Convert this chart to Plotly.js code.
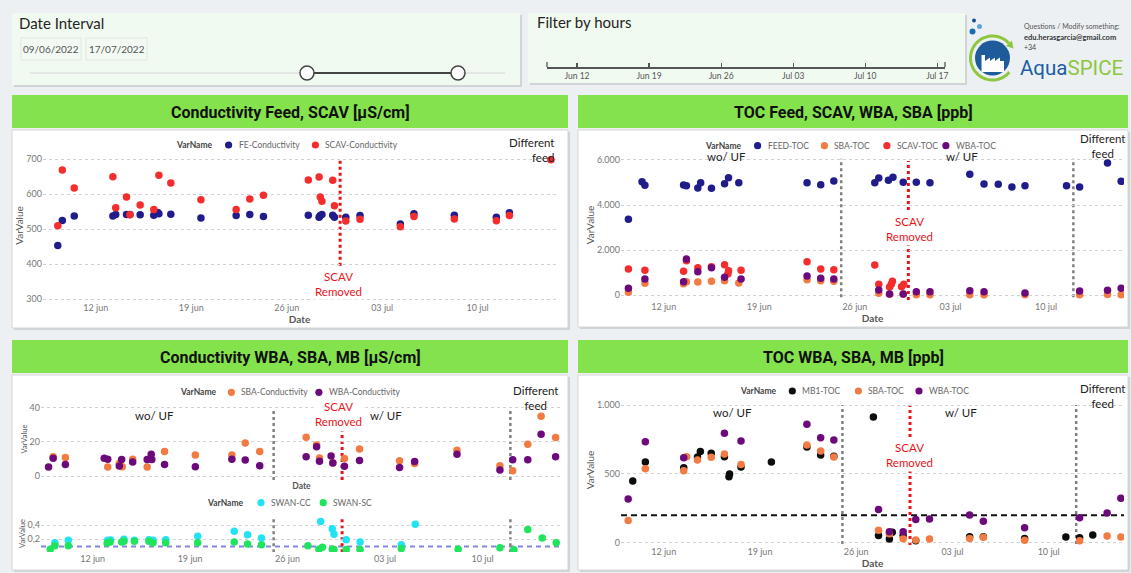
<!DOCTYPE html>
<html><head><meta charset="utf-8">
<script src="https://cdn.plot.ly/plotly-3.0.1.min.js"></script>
<style>html,body{margin:0;padding:0;background:#edf0f3;overflow:hidden}#chart{width:1131px;height:573px}</style>
</head><body><div id="chart"></div>
<script>
// ---------------- DATA ----------------
const tickDates = ['2022-06-12','2022-06-19','2022-06-26','2022-07-03','2022-07-10'];
const tickLabels = ['12 jun','19 jun','26 jun','03 jul','10 jul'];
const dateInterval = ['09/06/2022','17/07/2022'];
const scavRemovedDate = '2022-06-29 22:00';
const ufStartDate = '2022-06-25 00:00';
const newFeedDate = '2022-07-12 00:00';
const tocLimit = 200;
const swanLimit = 0.1;

// Conductivity Feed, SCAV
const feCondDates = ['2022-06-09 05:00','2022-06-09 13:00','2022-06-10 10:00','2022-06-13 06:00','2022-06-13 11:00','2022-06-14 06:00','2022-06-14 12:00','2022-06-15 06:00','2022-06-16 06:00','2022-06-16 13:00','2022-06-16 15:00','2022-06-17 12:00','2022-06-19 17:00','2022-06-22 07:00','2022-06-23 07:00','2022-06-24 07:00','2022-06-27 14:00','2022-06-28 09:00','2022-06-28 11:00','2022-06-28 14:00','2022-06-29 09:00','2022-06-29 12:00','2022-06-30 08:00','2022-07-01 09:00','2022-07-04 08:00','2022-07-05 08:00','2022-07-08 07:00','2022-07-11 09:00','2022-07-12 08:00'];
const feCondValues = [453,525,538,538,542,542,542,541,540,548,544,543,532,539,542,536,540,534,539,542,540,534,534,539,515,544,540,534,547];
const scavCondDates = ['2022-06-09 05:00','2022-06-09 13:00','2022-06-10 10:00','2022-06-13 06:00','2022-06-13 11:00','2022-06-14 06:00','2022-06-14 12:00','2022-06-15 06:00','2022-06-16 06:00','2022-06-16 15:00','2022-06-17 12:00','2022-06-19 17:00','2022-06-22 07:00','2022-06-23 07:00','2022-06-24 07:00','2022-06-27 14:00','2022-06-28 09:00','2022-06-28 11:00','2022-06-28 14:00','2022-06-29 09:00','2022-06-29 12:00','2022-06-30 08:00','2022-07-01 09:00','2022-07-04 08:00','2022-07-05 08:00','2022-07-08 07:00','2022-07-11 09:00','2022-07-12 08:00','2022-07-15 09:00'];
const scavCondValues = [510,669,618,650,561,592,541,569,556,654,632,584,556,586,597,641,649,592,580,640,567,523,528,507,536,529,524,539,699];

// TOC Feed, SCAV, WBA, SBA
const feedTocDates = ['2022-06-09 10:00','2022-06-10 10:00','2022-06-10 15:00','2022-06-13 11:00','2022-06-13 16:00','2022-06-14 12:00','2022-06-14 17:00','2022-06-15 12:00','2022-06-16 11:00','2022-06-16 18:00','2022-06-17 12:00','2022-06-22 12:00','2022-06-23 12:00','2022-06-24 11:00','2022-06-27 11:00','2022-06-27 18:00','2022-06-28 11:00','2022-06-28 19:00','2022-06-29 13:00','2022-06-30 12:00','2022-07-01 12:00','2022-07-04 10:00','2022-07-05 11:00','2022-07-06 12:00','2022-07-07 12:00','2022-07-08 11:00','2022-07-11 12:00','2022-07-12 11:00','2022-07-14 12:00','2022-07-15 12:00'];
const feedTocValues = [3362,5035,4873,4887,4858,4754,4991,4740,4947,5213,4991,4991,4902,5065,4991,5198,5095,5228,5006,5006,4991,5361,4932,4917,4798,4858,4858,4798,5865,5050];
const sbaTocDates = ['2022-06-09 10:00','2022-06-10 15:00','2022-06-13 11:00','2022-06-13 16:00','2022-06-14 12:00','2022-06-15 12:00','2022-06-16 11:00','2022-06-17 12:00','2022-06-22 12:00','2022-06-23 12:00','2022-06-24 11:00','2022-06-27 18:00','2022-06-28 13:00','2022-06-29 13:00','2022-06-30 12:00','2022-07-01 12:00','2022-07-04 10:00','2022-07-05 11:00','2022-07-08 11:00','2022-07-12 11:00','2022-07-14 12:00','2022-07-15 12:00'];
const sbaTocValues = [118,518,503,592,578,607,637,533,681,637,607,74,30,30,10,10,15,15,10,10,20,15];
const scavTocDates = ['2022-06-09 10:00','2022-06-10 15:00','2022-06-13 11:00','2022-06-13 16:00','2022-06-14 12:00','2022-06-15 12:00','2022-06-16 11:00','2022-06-16 17:00','2022-06-16 18:00','2022-06-17 16:00','2022-06-22 12:00','2022-06-23 12:00','2022-06-24 11:00','2022-06-27 11:00','2022-06-27 18:00','2022-06-28 13:00','2022-06-28 16:00','2022-06-28 18:00','2022-06-29 10:00','2022-06-29 14:00'];
const scavTocValues = [1155,1096,1051,1525,1214,1259,1348,948,1081,1096,1481,1155,1126,1333,474,355,474,607,370,474];
const wbaTocDates = ['2022-06-09 10:00','2022-06-10 15:00','2022-06-13 11:00','2022-06-13 16:00','2022-06-14 12:00','2022-06-15 12:00','2022-06-16 11:00','2022-06-17 16:00','2022-06-22 12:00','2022-06-23 12:00','2022-06-24 11:00','2022-06-27 18:00','2022-06-28 13:00','2022-06-29 13:00','2022-06-30 12:00','2022-07-01 12:00','2022-07-04 10:00','2022-07-05 11:00','2022-07-08 11:00','2022-07-12 11:00','2022-07-14 12:00','2022-07-15 12:00'];
const wbaTocValues = [296,711,592,1600,1037,1214,785,711,844,740,711,222,44,44,148,148,193,148,89,178,207,296];

// Conductivity WBA, SBA, MB
const sbaCondDates = ['2022-06-09 04:00','2022-06-10 01:00','2022-06-13 02:00','2022-06-13 22:00','2022-06-14 03:00','2022-06-14 21:00','2022-06-15 22:00','2022-06-17 04:00','2022-06-19 09:00','2022-06-22 00:00','2022-06-22 23:00','2022-06-24 00:00','2022-06-27 08:00','2022-06-28 02:00','2022-06-28 07:00','2022-06-29 06:00','2022-06-30 02:00','2022-07-01 04:00','2022-07-04 01:00','2022-07-05 03:00','2022-07-08 04:00','2022-07-11 06:00','2022-07-12 04:00','2022-07-13 06:00','2022-07-14 05:00','2022-07-15 06:00'];
const sbaCondValues = [11.4,10.9,5.4,7.5,5.6,9.9,5.4,14.4,12.4,12.4,19.3,14.4,22.7,18.2,10.7,7.9,10.3,15.8,9.0,7.5,15.2,6.2,3.2,18.6,34.9,22.5];
const wbaCondDates = ['2022-06-08 20:00','2022-06-09 04:00','2022-06-10 01:00','2022-06-12 20:00','2022-06-13 02:00','2022-06-13 22:00','2022-06-14 02:00','2022-06-14 21:00','2022-06-15 22:00','2022-06-16 05:00','2022-06-16 06:00','2022-06-17 04:00','2022-06-19 09:00','2022-06-22 00:00','2022-06-22 23:00','2022-06-24 00:00','2022-06-27 08:00','2022-06-28 02:00','2022-06-28 07:00','2022-06-29 03:00','2022-06-29 06:00','2022-06-30 02:00','2022-07-01 04:00','2022-07-04 01:00','2022-07-05 03:00','2022-07-08 04:00','2022-07-11 06:00','2022-07-12 04:00','2022-07-13 06:00','2022-07-14 05:00','2022-07-15 06:00'];
const wbaCondValues = [5.4,10.5,6.8,10.5,9.9,6.0,9.8,8.3,9.8,12.8,9.8,6.9,5.6,9.9,9.4,6.2,11.3,17.1,8.8,11.8,7.7,5.8,9.2,5.1,8.6,12.8,3.6,9.6,9.6,24.4,11.4];
const swanCcDates = ['2022-06-09 07:00','2022-06-10 06:00','2022-06-13 02:00','2022-06-13 07:00','2022-06-14 06:00','2022-06-15 00:00','2022-06-16 01:00','2022-06-16 08:00','2022-06-17 06:00','2022-06-19 13:00','2022-06-22 04:00','2022-06-23 03:00','2022-06-24 03:00','2022-06-28 09:00','2022-06-29 05:00','2022-06-29 08:00','2022-06-30 05:00','2022-07-01 05:00','2022-07-04 04:00','2022-07-05 04:00'];
const swanCcValues = [0.152,0.186,0.186,0.19,0.2,0.186,0.195,0.186,0.195,0.243,0.314,0.262,0.219,0.448,0.348,0.271,0.195,0.162,0.124,0.41];
const swanScDates = ['2022-06-08 23:00','2022-06-09 07:00','2022-06-10 06:00','2022-06-13 01:00','2022-06-13 06:00','2022-06-14 02:00','2022-06-14 06:00','2022-06-15 00:00','2022-06-16 01:00','2022-06-16 08:00','2022-06-17 06:00','2022-06-19 13:00','2022-06-22 04:00','2022-06-23 03:00','2022-06-24 03:00','2022-06-27 11:00','2022-06-28 06:00','2022-06-28 12:00','2022-06-29 05:00','2022-06-29 08:00','2022-06-30 05:00','2022-07-01 05:00','2022-07-04 04:00','2022-07-08 06:00','2022-07-11 06:00','2022-07-12 06:00','2022-07-13 06:00','2022-07-14 07:00','2022-07-15 07:00'];
const swanScValues = [0.062,0.11,0.11,0.148,0.162,0.162,0.171,0.171,0.171,0.152,0.152,0.152,0.162,0.133,0.124,0.11,0.062,0.09,0.062,0.057,0.057,0.057,0.071,0.062,0.081,0.052,0.338,0.219,0.152];

// TOC WBA, SBA, MB
const mb1TocDates = ['2022-06-09 18:00','2022-06-10 16:00','2022-06-13 11:00','2022-06-14 11:00','2022-06-14 16:00','2022-06-15 11:00','2022-06-16 10:00','2022-06-16 18:00','2022-06-16 19:00','2022-06-17 15:00','2022-06-19 20:00','2022-06-22 10:00','2022-06-23 10:00','2022-06-24 09:00','2022-06-27 06:00','2022-06-27 15:00','2022-06-28 10:00','2022-06-28 15:00','2022-06-29 10:00','2022-06-30 08:00','2022-07-04 06:00','2022-07-05 06:00','2022-07-08 06:00','2022-07-11 06:00','2022-07-12 06:00','2022-07-13 05:00'];
const mb1TocValues = [448,586,545,622,663,649,625,479,499,550,586,695,637,627,913,53,27,75,53,15,44,44,31,41,36,56];
const sbaToc2Dates = ['2022-06-09 10:00','2022-06-10 16:00','2022-06-13 11:00','2022-06-13 16:00','2022-06-14 11:00','2022-06-15 11:00','2022-06-16 10:00','2022-06-17 15:00','2022-06-22 10:00','2022-06-23 10:00','2022-06-24 09:00','2022-06-27 15:00','2022-06-28 10:00','2022-06-29 10:00','2022-06-30 08:00','2022-07-01 08:00','2022-07-04 06:00','2022-07-05 06:00','2022-07-08 06:00','2022-07-12 06:00','2022-07-14 06:00','2022-07-15 06:00'];
const sbaToc2Values = [162,537,523,625,600,620,644,567,709,666,622,90,65,29,19,27,31,39,17,15,48,41];
const wbaToc2Dates = ['2022-06-09 10:00','2022-06-10 16:00','2022-06-13 11:00','2022-06-16 10:00','2022-06-17 15:00','2022-06-22 10:00','2022-06-23 10:00','2022-06-24 09:00','2022-06-27 15:00','2022-06-28 10:00','2022-06-29 10:00','2022-06-30 08:00','2022-07-01 08:00','2022-07-04 06:00','2022-07-05 06:00','2022-07-08 06:00','2022-07-12 06:00','2022-07-14 06:00','2022-07-15 06:00'];
const wbaToc2Values = [317,734,617,794,738,860,763,746,242,80,80,169,172,201,155,109,182,215,322];

// ---------------- STYLE / LAYOUT ----------------
const W = 1131, H = 573;
const px = x => x / W, py = y => 1 - y / H;
const F = "Lato, 'Open Sans', sans-serif";
const FT = "Roboto, 'Open Sans', sans-serif";
const C = {navy:'#201c8c', red:'#f52d2d', orange:'#f27b43', purple:'#6c0a7c', black:'#0c0c0c', cyan:'#22e3f4', green:'#1fe45c'};

function pts(name, x, y, color, xa, ya){
  return {type:'scatter', mode:'markers', name, x, y, xaxis:xa, yaxis:ya, showlegend:false,
    marker:{color, size:7.5}, hoverinfo:'skip', cliponaxis:true};
}
const traces = [
  pts('FE-Conductivity', feCondDates, feCondValues, C.navy, 'x', 'y'),
  pts('SCAV-Conductivity', scavCondDates, scavCondValues, C.red, 'x', 'y'),
  pts('FEED-TOC', feedTocDates, feedTocValues, C.navy, 'x2', 'y2'),
  pts('SBA-TOC', sbaTocDates, sbaTocValues, C.orange, 'x2', 'y2'),
  pts('SCAV-TOC', scavTocDates, scavTocValues, C.red, 'x2', 'y2'),
  pts('WBA-TOC', wbaTocDates, wbaTocValues, C.purple, 'x2', 'y2'),
  pts('SBA-Conductivity', sbaCondDates, sbaCondValues, C.orange, 'x3', 'y3'),
  pts('WBA-Conductivity', wbaCondDates, wbaCondValues, C.purple, 'x3', 'y3'),
  pts('SWAN-CC', swanCcDates, swanCcValues, C.cyan, 'x4', 'y4'),
  pts('SWAN-SC', swanScDates, swanScValues, C.green, 'x4', 'y4'),
  pts('MB1-TOC', mb1TocDates, mb1TocValues, C.black, 'x5', 'y5'),
  pts('SBA-TOC', sbaToc2Dates, sbaToc2Values, C.orange, 'x5', 'y5'),
  pts('WBA-TOC', wbaToc2Dates, wbaToc2Values, C.purple, 'x5', 'y5'),
  {type:'scatter', x:[], y:[], xaxis:'x6', yaxis:'y6', showlegend:false, hoverinfo:'skip'}
];

function dateAxis(x0, x1, range, anchor, showLabels, title, tsize){
  return {domain:[px(x0), px(x1)], range, anchor, type:'date', tickmode:'array', tickvals:tickDates, ticktext:tickLabels,
    showticklabels:showLabels, tickfont:{size:9, color:'#777', family:F}, showgrid:false, zeroline:false, showline:false, ticks:'',
    title:{text:title, font:{size:tsize||10, color:'#555', family:F, weight:'bold'}, standoff:3}, fixedrange:true};
}
function valAxis(y0, y1, range, anchor, dtick, tsize, sepK){
  return {domain:[py(y1), py(y0)], range, anchor, dtick, tick0:0, showgrid:true, griddash:'dot', gridcolor:'#d2d2d2', gridwidth:1,
    zeroline:false, showline:false, ticks:'', separatethousands:!!sepK, tickfont:{size:9, color:'#777', family:F},
    title:{text:'VarValue', font:{size:tsize||10, color:'#555', family:F}, standoff:0}, fixedrange:true};
}
function rect(x0, y0, x1, y1, fill, line, lw){
  return {type:'rect', xref:'paper', yref:'paper', x0:px(x0), x1:px(x1), y0:py(y1), y1:py(y0), fillcolor:fill,
    line:{color:line||'rgba(0,0,0,0)', width:lw||0}, layer:'below'};
}
function circ(cx, cy, r, fill, line, lw){
  return {type:'circle', xref:'paper', yref:'paper', x0:px(cx-r), x1:px(cx+r), y0:py(cy+r), y1:py(cy-r), fillcolor:fill,
    line:{color:line||'rgba(0,0,0,0)', width:lw||0}, layer:'above'};
}
function pathPx(points, fill, line, lw){
  const d = points.map((p,i)=>(i?'L ':'M ')+px(p[0]).toFixed(5)+' '+py(p[1]).toFixed(5)).join(' ') + (fill?' Z':'');
  return {type:'path', xref:'paper', yref:'paper', path:d, fillcolor:fill||'rgba(0,0,0,0)', line:{color:line||'rgba(0,0,0,0)', width:lw||0}, layer:'above'};
}
function vline(xa, ya, x, y0, y1, color, w){
  return {type:'line', xref:xa, yref:ya, x0:x, x1:x, y0, y1, line:{color, width:w, dash:'dot'}, layer:'below'};
}
function hline(xa, ya, y, color, w, dash){
  return {type:'line', xref:xa+' domain', yref:ya, x0:0, x1:1, y0:y, y1:y, line:{color, width:w, dash}, layer:'below'};
}
function note(x, y, text, size, color, extra){
  return Object.assign({xref:'paper', yref:'paper', x:px(x), y:py(y), text, showarrow:false, xanchor:'center', yanchor:'middle',
    font:{size, color, family:F}}, extra||{});
}
function dnote(xa, ya, x, y, text, color, extra){
  return Object.assign({xref:xa, yref:ya, x, y, text, showarrow:false, xanchor:'center', yanchor:'middle',
    font:{size:11.5, color, family:F}}, extra||{});
}

const shadow = 'rgba(60,60,60,0.16)';
const panelGreen = '#f1faf1', header = '#84e34d';
const shapes = [
  rect(14,15,522,87,shadow), rect(12,13,520,85,panelGreen),
  rect(530,15,967,85,shadow), rect(528,13,965,83,panelGreen),
  rect(21,38,81,60,'#f3faf3','#e1e6e1',1), rect(86,38,147,60,'#f3faf3','#e1e6e1',1),
  rect(12,95,568,128,header), rect(578,95,1128,128,header),
  rect(12,340,568,373,header), rect(578,340,1128,373,header),
  rect(14,132,570,330,shadow), rect(12,130,568,328,'#ffffff','#d6d6d6',1),
  rect(580,132,1130,329,shadow), rect(578,130,1128,327,'#ffffff','#d6d6d6',1),
  rect(14,377,570,572,shadow), rect(12,375,568,570,'#ffffff','#d6d6d6',1),
  rect(580,377,1130,572,shadow), rect(578,375,1128,570,'#ffffff','#d6d6d6',1),
  {type:'line', xref:'paper', yref:'paper', x0:px(30), x1:px(505), y0:py(73), y1:py(73), line:{color:'#e3e6e3', width:2}, layer:'below'},
  {type:'line', xref:'paper', yref:'paper', x0:px(307), x1:px(458), y0:py(73), y1:py(73), line:{color:'#444', width:2}, layer:'below'},
  circ(307,73,7,'#ffffff','#444',1.5), circ(458,73,7,'#ffffff','#444',1.5),
  {type:'line', xref:'paper', yref:'paper', x0:px(547), x1:px(547), y0:py(67), y1:py(62), line:{color:'#555', width:1.3}, layer:'above'},
  {type:'line', xref:'paper', yref:'paper', x0:px(945), x1:px(945), y0:py(67), y1:py(62), line:{color:'#555', width:1.3}, layer:'above'},
  vline('x','y', scavRemovedDate, 395, 702, '#e8141c', 3),
  vline('x2','y2', ufStartDate, -100, 6050, '#808080', 2.5),
  vline('x2','y2', newFeedDate, -100, 6050, '#808080', 2.5),
  vline('x2','y2', scavRemovedDate, -220, 5950, '#e8141c', 3),
  vline('x3','y3', ufStartDate, -2.2, 39, '#808080', 2.5),
  vline('x3','y3', newFeedDate, -2.2, 39, '#808080', 2.5),
  vline('x3','y3', scavRemovedDate, -2.2, 26, '#e8141c', 3),
  vline('x4','y4', ufStartDate, 0.02, 0.52, '#808080', 2.5),
  vline('x4','y4', newFeedDate, 0.02, 0.52, '#808080', 2.5),
  vline('x4','y4', scavRemovedDate, 0.02, 0.52, '#e8141c', 3),
  hline('x4','y4', swanLimit, '#8585de', 2, '5px,4px'),
  vline('x5','y5', ufStartDate, -10, 1000, '#808080', 2.5),
  vline('x5','y5', newFeedDate, -10, 1000, '#808080', 2.5),
  vline('x5','y5', scavRemovedDate, -16, 1000, '#e8141c', 3),
  hline('x5','y5', tocLimit, '#111', 2, '6px,4px'),
  circ(992.5,58,17.5,'#1d5b9b'),
  pathPx([[981.5,72],[981.5,55],[985,55],[985,61],[990,57.5],[990,61],[995,57.5],[995,61],[1000,57.5],[1000,61],[1004,61],[1004,72]], '#ffffff'),
  circ(974,20.5,2,'#1b4f8f'), circ(979.5,26.5,2.5,'#5aa5dd'), circ(972.5,31.5,3,'#1b6cb5')
];
(function(){
  const cx=992.5, cy=58, r=22, a0=40, a1=318, n=48, ring=[];
  for(let i=0;i<=n;i++){const a=(a0+(a1-a0)*i/n)*Math.PI/180; ring.push([cx+r*Math.cos(a), cy+r*Math.sin(a)]);}
  shapes.push(pathPx(ring, null, '#8dc63f', 3));
  const a=a1*Math.PI/180, e=[cx+r*Math.cos(a), cy+r*Math.sin(a)], t=[-Math.sin(a), Math.cos(a)], nn=[Math.cos(a), Math.sin(a)];
  shapes.push(pathPx([[e[0]+7*t[0], e[1]+7*t[1]], [e[0]+4*nn[0], e[1]+4*nn[1]], [e[0]-4*nn[0], e[1]-4*nn[1]]], '#8dc63f'));
})();

const annotations = [
  note(17,23,'Date Interval',15,'#252423',{xanchor:'left'}),
  note(51,49,dateInterval[0],10,'#555'), note(116.5,49,dateInterval[1],10,'#555'),
  note(535,22,'Filter by hours',15,'#252423',{xanchor:'left'}),
  note(290,112,'<b>Conductivity Feed, SCAV [µS/cm]</b>',16,'#111',{font:{size:16,color:'#111',family:FT}}),
  note(853,112,'<b>TOC Feed, SCAV, WBA, SBA [ppb]</b>',16,'#111',{font:{size:16,color:'#111',family:FT}}),
  note(290,357,'<b>Conductivity WBA, SBA, MB [µS/cm]</b>',16,'#111',{font:{size:16,color:'#111',family:FT}}),
  note(853,357,'<b>TOC WBA, SBA, MB [ppb]</b>',16,'#111',{font:{size:16,color:'#111',family:FT}}),
  note(1022,26,'Questions / Modify something:',7,'#555',{xanchor:'left'}),
  note(1022,37,'<b>edu.herasgarcia@gmail.com</b>',7.5,'#333',{xanchor:'left'}),
  note(1022,47,'+34',7,'#444',{xanchor:'left'}),
  note(1018,68,"<span style='color:#1b5ea6'>Aqua</span><span style='color:#8cc63f'>SPICE</span>",20.5,'#1b5ea6',{xanchor:'left', font:{size:20.5,color:'#1b5ea6',family:FT}}),
  // chart 1
  dnote('x','y','2022-06-29 20:00',343,'SCAV<br>Removed','#e8141c',{bgcolor:'#ffffff', borderpad:1}),
  note(556,150,'Different<br>feed',11.5,'#222',{xanchor:'right', align:'right'}),
  // chart 2
  dnote('x2','y2','2022-06-16 14:00',6146,'wo/ UF','#222'),
  dnote('x2','y2','2022-07-03 21:00',6146,'w/ UF','#222'),
  dnote('x2','y2','2022-06-30 00:00',2932,'SCAV<br>Removed','#e8141c',{bgcolor:'#ffffff', borderpad:2}),
  note(1102.5,146,'Different<br>feed',11.5,'#222'),
  // chart 3
  dnote('x3','y3','2022-06-16 10:00',35.5,'wo/ UF','#222'),
  dnote('x3','y3','2022-07-03 02:00',35.5,'w/ UF','#222'),
  dnote('x3','y3','2022-06-29 16:00',36,'SCAV<br>Removed','#e8141c',{bgcolor:'#ffffff', borderpad:1}),
  dnote('x3','y3','2022-07-13 20:00',45.4,'Different<br>feed','#222'),
  // chart 4
  dnote('x5','y5','2022-06-17 00:00',947,'wo/ UF','#222'),
  dnote('x5','y5','2022-07-03 15:00',947,'w/ UF','#222'),
  dnote('x5','y5','2022-06-29 21:00',634,'SCAV<br>Removed','#e8141c',{bgcolor:'#ffffff', borderpad:2}),
  dnote('x5','y5','2022-07-13 22:00',1065,'Different<br>feed','#222')
];

// Legends (VarName + coloured dot + series name), drawn from the traces' own names and colours
function legendRow(titleX, y, entries){
  annotations.push(note(titleX, y, '<b>VarName</b>', 8.5, '#444', {xanchor:'left'}));
  entries.forEach(([traceIdx, dotX]) => {
    const tr = traces[traceIdx];
    shapes.push(circ(dotX, y, 3.6, tr.marker.color));
    annotations.push(note(dotX + 8, y, tr.name, 8.5, '#666', {xanchor:'left'}));
  });
}
legendRow(174, 145, [[0,228.6],[1,315.4]]);
legendRow(703, 145.7, [[2,757.6],[3,824.4],[4,886.9],[5,945.9]]);
legendRow(178, 392.3, [[6,231.4],[7,318.9]]);
legendRow(204.5, 502.7, [[8,261],[9,323.2]]);
legendRow(738, 391, [[10,792.3],[11,858.4],[12,919]]);

const layout = {
  width:W, height:H, autosize:false, margin:{l:0,r:0,t:0,b:0,pad:0},
  paper_bgcolor:'#edf0f3', plot_bgcolor:'rgba(0,0,0,0)', separators:',.', font:{family:F},
  showlegend:false, hovermode:false,
  xaxis: dateAxis(43,556,['2022-06-08 03:00','2022-07-15 18:00'],'y',true,'<b>Date</b>'),
  yaxis: valAxis(150,301,[294.3,726.6],'x',100),
  xaxis2: dateAxis(621,1124,['2022-06-08 21:00','2022-07-15 17:00'],'y2',true,'<b>Date</b>'),
  yaxis2: valAxis(150,300,[-222,6444],'x2',2000,10,true),
  xaxis3: dateAxis(41,562,['2022-06-08 07:00','2022-07-15 17:00'],'y3',false,'<b>Date</b>',8.5),
  yaxis3: valAxis(398,480,[-2.15,45.5],'x3',20,7.5),
  xaxis4: dateAxis(41,562,['2022-06-08 07:00','2022-07-15 17:00'],'y4',true,''),
  yaxis4: valAxis(515,552,[0.022,0.54],'x4',0.2,7.5),
  xaxis5: dateAxis(621,1124,['2022-06-08 21:30','2022-07-15 11:30'],'y5',true,'<b>Date</b>'),
  yaxis5: valAxis(395,545,[-16.7,1072.6],'x5',500,10,true),
  xaxis6: {domain:[px(547),px(945)], anchor:'y6', type:'date', range:['2022-06-09 02:00','2022-07-17 18:00'],
    tick0:'2022-06-12', dtick:7*86400000, tickformat:'%b %d', ticks:'inside', ticklen:4, tickcolor:'#555', tickwidth:1.2,
    showline:true, linecolor:'#555', linewidth:1.5, showgrid:false, zeroline:false, tickfont:{size:8.5,color:'#555',family:F}, fixedrange:true},
  yaxis6: {domain:[py(67),py(57)], anchor:'x6', visible:false, range:[0,1], fixedrange:true},
  shapes, annotations
};
Plotly.newPlot('chart', traces, layout, {staticPlot:true, displayModeBar:false});
</script></body></html>
